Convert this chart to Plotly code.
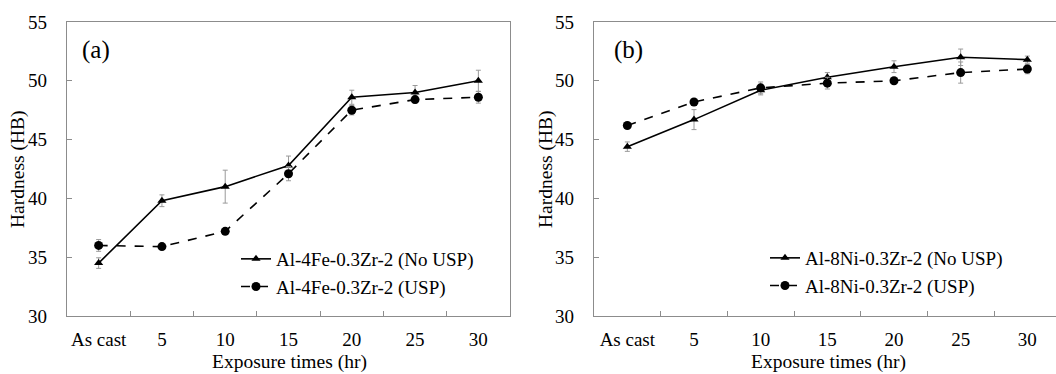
import plotly.graph_objects as go

categories = ["As cast", "5", "10", "15", "20", "25", "30"]

# Panel (a): Al-4Fe-0.3Zr-2
a_nousp = [34.5, 39.8, 41.0, 42.8, 48.6, 49.0, 50.0]
a_nousp_err = [0.45, 0.5, 1.4, 0.8, 0.6, 0.6, 0.9]
a_usp = [36.0, 35.9, 37.2, 42.1, 47.5, 48.4, 48.6]
a_usp_err = [0.5, 0.2, 0.2, 0.6, 0.4, 0.3, 0.5]

# Panel (b): Al-8Ni-0.3Zr-2
b_nousp = [44.4, 46.7, 49.2, 50.3, 51.2, 52.0, 51.8]
b_nousp_err = [0.4, 0.85, 0.4, 0.4, 0.5, 0.7, 0.3]
b_usp = [46.2, 48.2, 49.4, 49.8, 50.0, 50.7, 51.0]
b_usp_err = [0.2, 0.2, 0.5, 0.5, 0.2, 0.9, 0.4]

names_a = ["Al-4Fe-0.3Zr-2 (No USP)", "Al-4Fe-0.3Zr-2 (USP)"]
names_b = ["Al-8Ni-0.3Zr-2 (No USP)", "Al-8Ni-0.3Zr-2 (USP)"]
panel_labels = ["(a)", "(b)"]
y_ticks = [30, 35, 40, 45, 50, 55]

W, H = 1056, 374
FONT = "Liberation Serif"
FRAME = "#8c8c8c"
ERR = "#9a9a9a"

fig = go.Figure()

def add_series(x, y, err, name, sym, dash, xa, ya, leg):
    fig.add_trace(go.Scatter(
        x=x, y=y, name=name, mode="lines+markers",
        xaxis=xa, yaxis=ya, legend=leg,
        line=dict(color="black", width=1.6, dash=dash),
        marker=dict(symbol=sym, size=8 if sym == "triangle-up" else 9, color="black"),
        error_y=dict(type="data", array=err, visible=True, color=ERR, thickness=1, width=2.5),
    ))

add_series(categories, a_nousp, a_nousp_err, names_a[0], "triangle-up", "solid", "x", "y", "legend")
add_series(categories, a_usp, a_usp_err, names_a[1], "circle", "dash", "x", "y", "legend")
add_series(categories, b_nousp, b_nousp_err, names_b[0], "triangle-up", "solid", "x2", "y2", "legend2")
add_series(categories, b_usp, b_usp_err, names_b[1], "circle", "dash", "x2", "y2", "legend2")

px = lambda p: p / W
py = lambda p: 1 - p / H

ax_common = dict(
    type="category", tickson="boundaries", ticks="inside", ticklen=5,
    tickcolor=FRAME, linecolor=FRAME, linewidth=1.2, showline=True,
    showgrid=False, zeroline=False, automargin=False, tickangle=0,
    tickfont=dict(family=FONT, size=19, color="black"),
    ticklabelstandoff=6,
)
ay_common = dict(
    range=[30, 55], tickvals=y_ticks, ticks="inside", ticklen=5,
    tickcolor=FRAME, linecolor=FRAME, linewidth=1.2, showline=True,
    showgrid=False, zeroline=False, automargin=False,
    tickfont=dict(family=FONT, size=19, color="black"),
    ticklabelstandoff=15,
)

top_px, bot_px = 22, 316

fig.update_layout(
    template="none",
    width=W, height=H,
    margin=dict(l=0, r=0, t=top_px, b=H - bot_px, autoexpand=False),
    paper_bgcolor="white", plot_bgcolor="white",
    xaxis=dict(domain=[px(67), px(510)], range=[-0.5, 6.5], mirror=True, anchor="y", **ax_common),
    yaxis=dict(domain=[0, 1], mirror=True, anchor="x", **ay_common),
    xaxis2=dict(domain=[px(594), 1.0], range=[-0.5, 6.43], mirror=True, anchor="y2", **ax_common),
    yaxis2=dict(domain=[0, 1], mirror=False, anchor="x2", **ay_common),
    legend=dict(x=px(236), y=py(240), xanchor="left", yanchor="top",
                xref="container", yref="container",
                bgcolor="rgba(0,0,0,0)", font=dict(family=FONT, size=19, color="black"),
                itemwidth=30, tracegroupgap=0),
    legend2=dict(x=px(765), y=py(239), xanchor="left", yanchor="top",
                 xref="container", yref="container",
                 bgcolor="rgba(0,0,0,0)", font=dict(family=FONT, size=19, color="black"),
                 itemwidth=30, tracegroupgap=0),
    showlegend=True,
)

plot_h = bot_px - top_px
pay = lambda p: (bot_px - p) / plot_h

annotations = []
for lab, xc in zip(panel_labels, [96, 628]):
    annotations.append(dict(text=lab, x=px(xc), y=pay(50), xref="paper", yref="paper",
                            xanchor="center", yanchor="middle",
                            showarrow=False, font=dict(family=FONT, size=25, color="black")))
for xc in [18, 546]:
    annotations.append(dict(text="Hardness (HB)", x=px(xc), y=pay(169), xref="paper", yref="paper",
                            xanchor="center", yanchor="middle",
                            showarrow=False, textangle=-90, font=dict(family=FONT, size=19.5, color="black")))
for xc in [289, 828]:
    annotations.append(dict(text="Exposure times (hr)", x=px(xc), y=pay(362), xref="paper", yref="paper",
                            xanchor="center", yanchor="middle",
                            showarrow=False, font=dict(family=FONT, size=19.5, color="black")))
fig.update_layout(annotations=annotations)

fig.write_html("out.html")
